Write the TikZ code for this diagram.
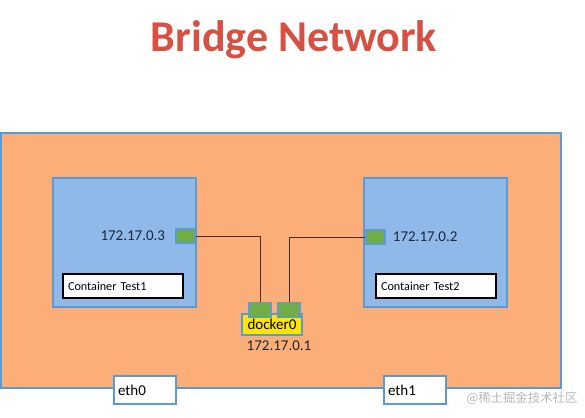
\documentclass[tikz,border=0pt]{standalone}
\usepackage{fontspec}
\setmainfont{Carlito}
\newfontfamily\cjkfont{Noto Sans CJK SC}
\usepackage{xcolor}
\usetikzlibrary{positioning}

\definecolor{hostorange}{RGB}{251,174,120}
\definecolor{edgeblue}{RGB}{91,155,213}
\definecolor{boxblue}{RGB}{143,185,233}
\definecolor{portgreen}{RGB}{112,173,71}
\definecolor{bridgeyellow}{RGB}{255,230,0}
\definecolor{titlered}{RGB}{215,80,65}
\definecolor{inktext}{RGB}{30,38,58}
\definecolor{wirebrown}{RGB}{70,45,30}

\begin{document}
\begin{tikzpicture}[x=1pt,y=-1pt,
  host/.style={draw=edgeblue,fill=hostorange,rectangle,line width=1.8pt,minimum width=560pt,minimum height=255pt,inner sep=0pt},
  container/.style={draw=edgeblue,fill=boxblue,rectangle,line width=2.2pt,minimum width=143pt,minimum height=129pt,inner sep=0pt},
  namebox/.style={draw=black,fill=white,rectangle,line width=1.8pt,text width=110pt,align=left,inner sep=5pt,minimum height=24pt,font=\fontsize{12.2}{14}\selectfont},
  port/.style={draw=edgeblue,fill=portgreen,rectangle,line width=1.4pt,minimum width=19pt,minimum height=14pt,inner sep=0pt},
  bport/.style={port,minimum width=22pt,minimum height=15pt},
  bridge/.style={draw=edgeblue,fill=bridgeyellow,rectangle,line width=1.4pt,minimum width=60pt,minimum height=21pt,inner sep=0pt,font=\fontsize{15}{17}\selectfont},
  nic/.style={draw=edgeblue,fill=white,rectangle,line width=1.4pt,text width=54pt,align=left,inner sep=4pt,minimum height=28pt,font=\fontsize{15}{17}\selectfont},
  ip/.style={font=\fontsize{15}{17}\selectfont,text=inktext,inner sep=1pt},
  wire/.style={draw=wirebrown,line width=0.9pt}
]
\useasboundingbox (0,0) rectangle (585,417);

% Title
\node[font=\bfseries\fontsize{44}{48}\selectfont,text=titlered] (title) at (294,40) {Bridge Network};

% Host
\node[host] (hostbox) at (281,260.5) {};

% Containers
\node[container] (test1) at (124.5,242.5) {};
\node[container] (test2) at (435.5,242.5) {};
\node[namebox] (name1) at (123,286) {Container Test1};
\node[namebox] (name2) at (436,286) {Container Test2};

% Container ports
\node[port] (port1) at (185.5,236) {};
\node[port] (port2) at (375.5,237) {};
\node[ip,left=9pt of port1] (ip1) {172.17.0.3};
\node[ip,right=6pt of port2] (ip2) {172.17.0.2};

% Bridge
\node[bridge] (docker) at (272,324.5) {docker0};
\node[bport] (dport1) at (260,310) {};
\node[bport] (dport2) at (289,310) {};
\node[ip,below=4pt of docker,xshift=7pt] (ip0) {172.17.0.1};

% Wires
\draw[wire] (port1.east) -| (dport1.north);
\draw[wire] (port2.west) -| (dport2.north);

% Host interfaces
\node[nic] (eth0) at (145,390) {eth0};
\node[nic] (eth1) at (415,390) {eth1};

% Watermark
\node[font=\cjkfont\fontsize{12.4}{14}\selectfont,text=black!28,anchor=west] (mark) at (463,398) {@稀土掘金技术社区};

\end{tikzpicture}
\end{document}
